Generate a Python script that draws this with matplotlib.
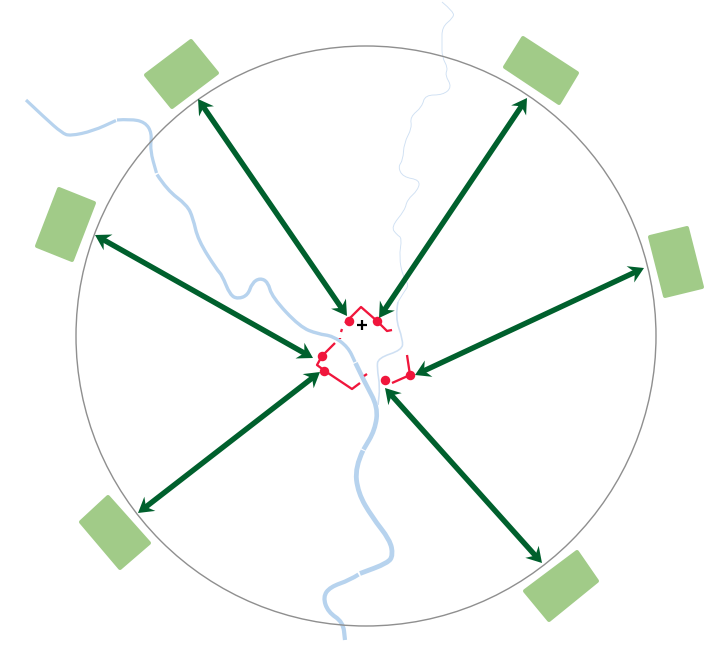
import numpy as np
import matplotlib
matplotlib.use('Agg')
import matplotlib.pyplot as plt
from matplotlib.patches import Circle, Polygon, PathPatch
from matplotlib.path import Path

##### everything is in picture pixels, y going down
W = 709
H = 645

circle_center = (366, 336)
circle_radius = 290

# green blocks round the ring
blocks = [
    [(146, 75), (191, 41), (217, 73), (172, 107)],
    [(505, 67), (523, 38), (577, 73), (559, 103)],
    [(650, 237), (687, 228), (702, 287), (665, 296)],
    [(59, 189), (94, 203), (72, 260), (37, 246)],
    [(81, 522), (108, 497), (149, 543), (120, 568)],
    [(525, 591), (577, 552), (597, 581), (549, 620)],
]

# double arrows, ring end then centre end
arrow_outer = [(198, 99), (527, 98), (95, 235), (644, 268), (138, 513), (542, 563)]
arrow_inner = [(347, 316), (379, 318), (313, 358), (415, 375), (320, 372), (385, 388)]

# main river, cut in pieces at the small white gaps
river_a = [(26, 100), (45, 118), (62, 133), (70, 136), (93, 131), (116, 120.5)]
river_b = [(117, 120), (130, 119), (145, 122), (152, 133), (150, 150), (156.5, 173)]
river_c = [(157, 174.5), (167, 190), (187, 205), (193, 218), (198, 240), (217, 270),
           (222, 275), (230, 295), (238, 299), (248, 295), (252, 283), (260, 278),
           (268, 282), (272, 297), (300, 327), (318, 334), (333, 336), (348, 347),
           (355, 362)]
river_d = [(355.5, 363), (365, 383), (378, 407), (375, 430), (363.5, 449.5)]
river_e = [(363, 450.5), (355, 467), (358, 493), (372, 517), (390, 540), (393, 555),
           (388, 563), (360, 573.5)]
river_f = [(358.5, 574.5), (350, 580), (330, 587), (323, 597), (328, 612), (343, 622),
           (345, 640)]

# thin branch from the top
branch_top = [(442, 2), (454, 12), (453, 18), (442, 27), (442, 43), (442, 57),
              (448, 68), (445, 75), (452, 87), (443, 95), (425, 95), (422, 107),
              (410, 117), (412, 128), (404, 143), (403, 160), (398, 167), (403, 177),
              (420, 180), (418, 190), (407, 200), (405, 210), (391, 227), (397, 235),
              (402, 238), (399, 257), (403, 277), (409, 285), (404, 292), (398, 302)]
branch_low = [(398, 302), (395, 317), (403, 340), (402, 350), (378, 358),
              (377, 368), (380, 387), (378, 405)]

# red boundary pieces and its dots
red_lines = [
    [(345, 323), (361, 307), (377, 321), (387, 331), (392, 330)],
    [(342, 329), (341, 332)],
    [(340, 338), (340, 339)],
    [(335, 343), (322, 356), (317, 365), (325, 371), (352, 389), (360, 383)],
    [(364, 376), (367, 374)],
    [(392, 383), (410, 375), (407, 355)],
]
red_x = [349, 377, 322, 324, 385, 410]
red_y = [321, 321, 356, 371, 380, 375]

plus_x = [362]
plus_y = [325]

river_color = '#b7d3ee'
branch_color = '#cfe0f3'
green_dark = '#00602d'
green_light = '#a1cb88'
red = '#f0163c'
ring_color = '#8f8f8f'


def px(n):
    # line width in pixels to points
    return n * 72 / 100


def smooth_path(pts):
    # quadratic curves through the midpoints so the rivers do not look jagged
    pts = np.array(pts, dtype=float)
    verts = [pts[0]]
    codes = [Path.MOVETO]
    for i in range(1, len(pts) - 1):
        mid = (pts[i] + pts[i + 1]) / 2
        verts += [pts[i], mid]
        codes += [Path.CURVE3, Path.CURVE3]
    verts.append(pts[-1])
    codes.append(Path.LINETO)
    return Path(verts, codes)


def draw_river(ax, pts, width, color):
    ax.add_patch(PathPatch(smooth_path(pts), fill=False, edgecolor=color, lw=px(width),
                           capstyle='butt', joinstyle='round', zorder=2))


def arrow_head(ax, tip, back, size=15, half=9, notch=10):
    tip = np.array(tip, dtype=float)
    back = np.array(back, dtype=float)
    d = (back - tip) / np.linalg.norm(back - tip)
    n = np.array([-d[1], d[0]])
    shape = [tip, tip + d * size + n * half, tip + d * notch, tip + d * size - n * half]
    ax.add_patch(Polygon(shape, closed=True, facecolor=green_dark, edgecolor='none', zorder=5))


fig = plt.figure(figsize=(W / 100, H / 100), dpi=100)
ax = fig.add_axes([0, 0, 1, 1])
ax.set_xlim(0, W)
ax.set_ylim(H, 0)
ax.axis('off')

# rivers
draw_river(ax, river_a, 3.2, river_color)
draw_river(ax, river_b, 3.2, river_color)
draw_river(ax, river_c, 3.4, river_color)
draw_river(ax, river_d, 4.6, river_color)
draw_river(ax, river_e, 4.8, river_color)
draw_river(ax, river_f, 4.2, river_color)
draw_river(ax, branch_top, 0.9, branch_color)
draw_river(ax, branch_low, 1.6, branch_color)

# ring
ax.add_patch(Circle(circle_center, circle_radius, fill=False, edgecolor=ring_color,
                    lw=px(1.4), zorder=3))

# green blocks, thick round edge gives the soft corners
for b in blocks:
    ax.add_patch(Polygon(b, closed=True, facecolor=green_light, edgecolor=green_light,
                         lw=px(4), joinstyle='round', zorder=3))

# red boundary
for seg in red_lines:
    xs = [p[0] for p in seg]
    ys = [p[1] for p in seg]
    ax.plot(xs, ys, color=red, lw=px(2.3), solid_capstyle='butt', zorder=4)
ax.scatter(red_x, red_y, s=(9.5 * 0.72) ** 2, color=red, linewidths=0, zorder=4)

# small black cross
ax.plot(plus_x, plus_y, marker='+', color='black', markersize=6.5, markeredgewidth=1.6, zorder=4)

# arrows
for a, b in zip(arrow_outer, arrow_inner):
    a = np.array(a, dtype=float)
    b = np.array(b, dtype=float)
    d = (b - a) / np.linalg.norm(b - a)
    s = a + d * 9
    e = b - d * 9
    ax.plot([s[0], e[0]], [s[1], e[1]], color=green_dark, lw=px(5.4),
            solid_capstyle='butt', zorder=5)
    arrow_head(ax, a, b)
    arrow_head(ax, b, a)

fig.savefig('out.png', dpi=100, facecolor='white')
